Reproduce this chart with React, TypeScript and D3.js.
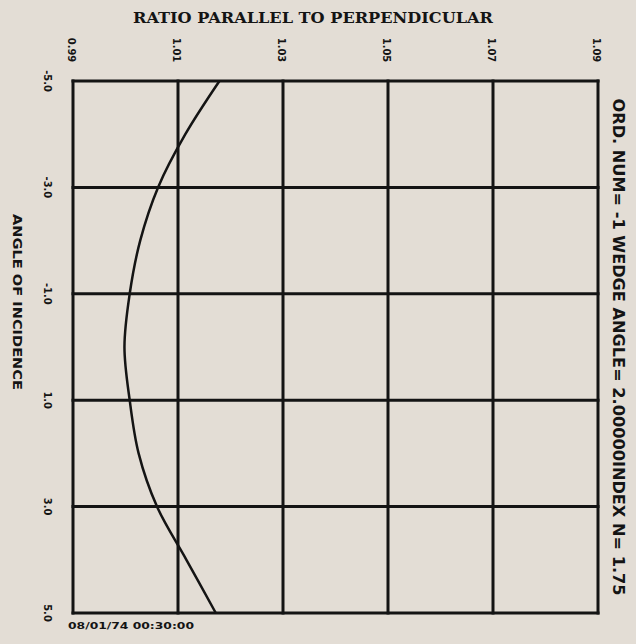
import React from "react";
import * as d3 from "d3";

const ratioTicks = [0.99, 1.01, 1.03, 1.05, 1.07, 1.09];
const ratioTickLabels = ["0.99", "1.01", "1.03", "1.05", "1.07", "1.09"];
const angleTicks = [-5, -3, -1, 1, 3, 5];
const angleTickLabels = ["-5.0", "-3.0", "-1.0", "1.0", "3.0", "5.0"];
const angles = [-5, -4, -3, -2, -1, 0, 1, 2, 3, 4, 5];
const ratios = [1.0179, 1.0114, 1.0062, 1.0028, 1.0008, 0.9998, 1.0008, 1.0025, 1.006, 1.0116, 1.0172];

const title = "RATIO PARALLEL TO PERPENDICULAR";
const sideNote = "ORD. NUM= -1 WEDGE ANGLE= 2.00000INDEX N= 1.75";
const axisLabel = "ANGLE OF INCIDENCE";
const stamp = "08/01/74 00:30:00";

export default function App() {
  const W = 636, H = 644;
  const x = d3.scaleLinear().domain([0.99, 1.09]).range([73, 598]);
  const y = d3.scaleLinear().domain([-5, 5]).range([81, 613]);
  const pts = angles.map((a, i) => ({ a, r: ratios[i] }));
  const line = d3
    .line<{ a: number; r: number }>()
    .x((d) => x(d.r))
    .y((d) => y(d.a))
    .curve(d3.curveCatmullRom);
  const ink = "#141414";
  const sans = "DejaVu Sans Condensed, DejaVu Sans, sans-serif";
  return (
    <svg width={W} height={H} style={{ position: "absolute", left: 0, top: 0 }}>
      <rect width={W} height={H} fill="#e3ddd5" />
      <text x={313} y={23} textAnchor="middle" fontFamily="DejaVu Serif, serif" fontWeight="bold" fontSize={15} fill={ink} textLength={360} lengthAdjust="spacingAndGlyphs">
        {title}
      </text>
      {ratioTicks.map((t) => (
        <line key={"v" + t} x1={x(t)} x2={x(t)} y1={y(-5)} y2={y(5)} stroke={ink} strokeWidth={3} strokeLinecap="square" />
      ))}
      {angleTicks.map((t) => (
        <line key={"h" + t} x1={x(0.99)} x2={x(1.09)} y1={y(t)} y2={y(t)} stroke={ink} strokeWidth={3} strokeLinecap="square" />
      ))}
      <path d={line(pts) || ""} fill="none" stroke={ink} strokeWidth={2.5} />
      {ratioTicks.map((t, i) => (
        <text key={"rl" + t} transform={`translate(${x(t) - 2},50) rotate(90)`} textAnchor="middle" dominantBaseline="central" fontFamily={sans} fontWeight="bold" fontSize={11} fill={ink}>
          {ratioTickLabels[i]}
        </text>
      ))}
      {angleTicks.map((t, i) => (
        <text key={"al" + t} transform={`translate(47,${y(t)}) rotate(90)`} textAnchor="middle" dominantBaseline="central" fontFamily={sans} fontWeight="bold" fontSize={11} fill={ink}>
          {angleTickLabels[i]}
        </text>
      ))}
      <text transform={`translate(17,302) rotate(90)`} textAnchor="middle" dominantBaseline="central" fontFamily={sans} fontWeight="bold" fontSize={13} fill={ink} textLength={176} lengthAdjust="spacingAndGlyphs">
        {axisLabel}
      </text>
      <text transform={`translate(618,347) rotate(90)`} textAnchor="middle" dominantBaseline="central" fontFamily={sans} fontWeight="600" fontSize={15} fill={ink} textLength={497} lengthAdjust="spacingAndGlyphs">
        {sideNote}
      </text>
      <text x={68} y={629} fontFamily={sans} fontWeight="bold" fontSize={9} fill={ink} textLength={126} lengthAdjust="spacingAndGlyphs">
        {stamp}
      </text>
    </svg>
  );
}
